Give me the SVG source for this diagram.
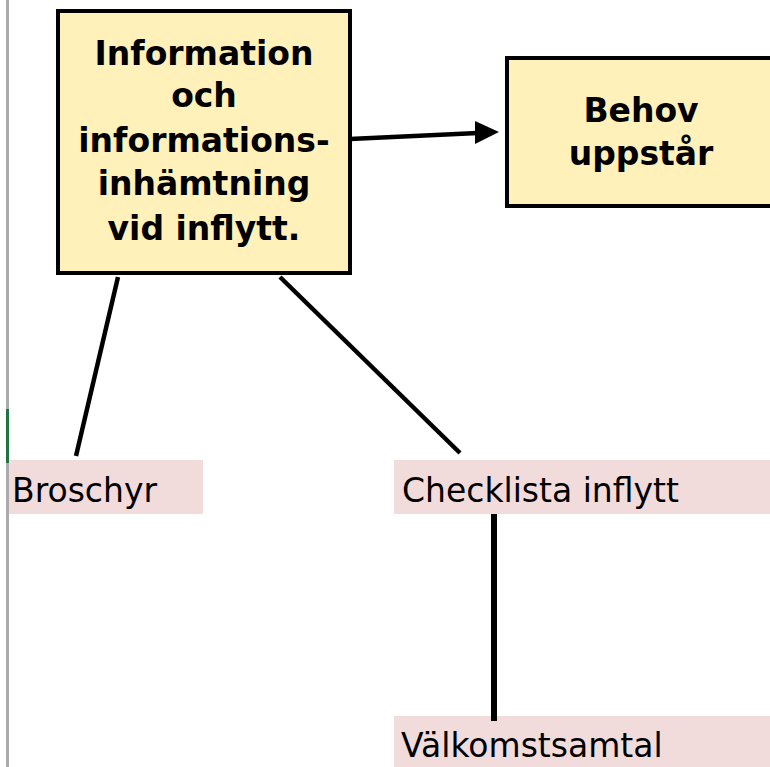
<svg xmlns="http://www.w3.org/2000/svg" width="770" height="767" viewBox="0 0 770 767">
<style>
.box{fill:#fff1b9;stroke:#000;stroke-width:4}
.cell{fill:#f2dcdb}
.bt{font-family:"DejaVu Sans",Verdana,sans-serif;font-weight:bold;font-size:33px;fill:#000;text-anchor:middle}
.ct{font-family:"DejaVu Sans",Verdana,sans-serif;font-size:33px;fill:#000}
.conn{stroke:#000;stroke-width:4.5;fill:none}
.thick{stroke-width:6}
</style>
<rect x="0" y="0" width="770" height="767" fill="#fff"/>
<rect x="6" y="0" width="3" height="767" fill="#ababab"/>
<rect x="6" y="409" width="3" height="54" fill="#217346"/>
<g id="cell-broschyr">
<rect class="cell" x="9" y="460" width="194" height="54"/>
<text class="ct" x="12" y="502">Broschyr</text>
</g>
<g id="cell-checklista">
<rect class="cell" x="394" y="460" width="376" height="54"/>
<text class="ct" x="402" y="502">Checklista inflytt</text>
</g>
<g id="cell-valkomst">
<rect class="cell" x="394" y="716" width="376" height="51"/>
<text class="ct" x="401" y="757">Välkomstsamtal</text>
</g>
<g id="connectors">
<line class="conn" x1="118" y1="277" x2="76" y2="456"/>
<line class="conn" x1="280" y1="277" x2="460" y2="453"/>
<line class="conn thick" x1="494" y1="514" x2="494" y2="721"/>
<line class="conn" x1="350" y1="139" x2="478" y2="133"/>
<polygon points="475,121 499,132 475,144" fill="#000"/>
</g>
<g id="node-info">
<rect class="box" x="58" y="11" width="292" height="262"/>
<text class="bt" x="204" y="65">Information</text>
<text class="bt" x="204" y="107">och</text>
<text class="bt" x="204" y="152">informations-</text>
<text class="bt" x="204" y="195">inhämtning</text>
<text class="bt" x="204" y="240">vid inflytt.</text>
</g>
<g id="node-behov">
<rect class="box" x="507" y="58" width="272" height="148"/>
<text class="bt" x="641" y="122">Behov</text>
<text class="bt" x="641" y="165">uppstår</text>
</g>
</svg>
